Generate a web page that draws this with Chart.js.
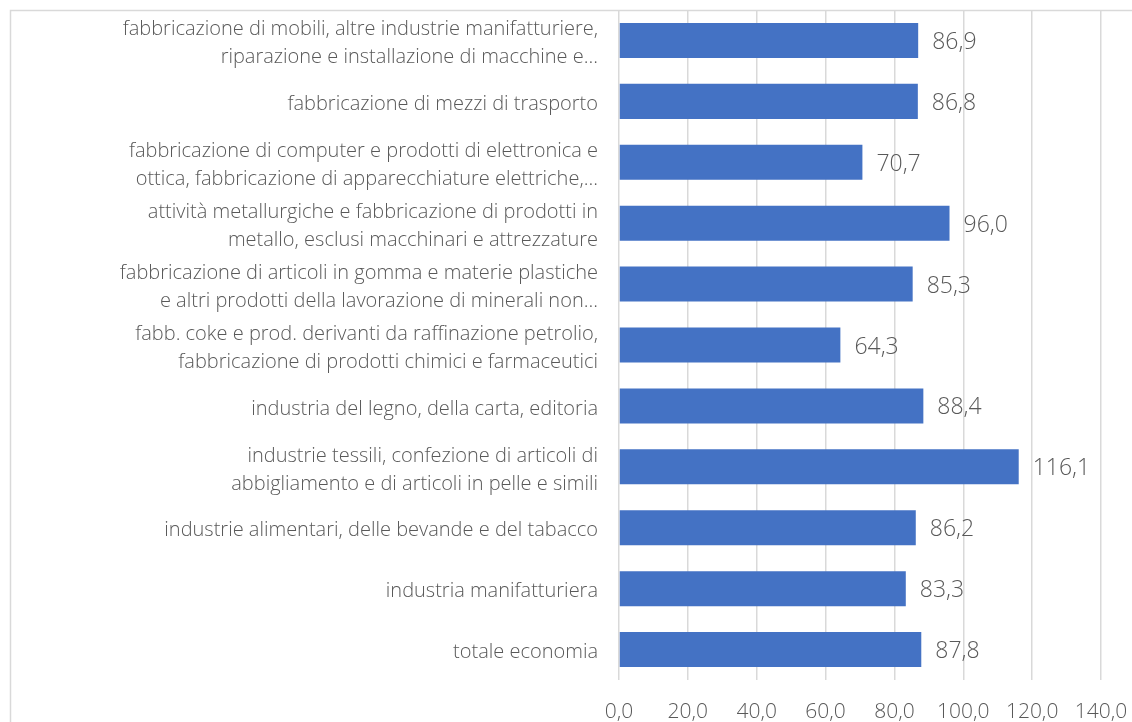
<!DOCTYPE html>
<html>
<head>
<meta charset="utf-8">
<script src="https://cdn.jsdelivr.net/npm/chart.js@4/dist/chart.umd.min.js"></script>
<style>
  html, body { margin: 0; padding: 0; background: #fff; }
  #wrap { width: 1132px; height: 722px; position: relative; }
</style>
</head>
<body>
<div id="wrap"><canvas id="chart"></canvas></div>
<script>
// categorie, dall'alto verso il basso
const categories = [
  ['fabbricazione di mobili, altre industrie manifatturiere,', 'riparazione e installazione di macchine e...'],
  'fabbricazione di mezzi di trasporto',
  ['fabbricazione di computer e prodotti di elettronica e', 'ottica, fabbricazione di apparecchiature elettriche,...'],
  ['attività metallurgiche e fabbricazione di prodotti in', 'metallo, esclusi macchinari e attrezzature'],
  ['fabbricazione di articoli in gomma e materie plastiche', 'e altri prodotti della lavorazione di minerali non...'],
  ['fabb. coke e prod. derivanti da raffinazione petrolio,', 'fabbricazione di prodotti chimici e farmaceutici'],
  'industria del legno, della carta, editoria',
  ['industrie tessili, confezione di articoli di', 'abbigliamento e di articoli in pelle e simili'],
  'industrie alimentari, delle bevande e del tabacco',
  'industria manifatturiera',
  'totale economia'
];

const values = [86.9, 86.8, 70.7, 96.0, 85.3, 64.3, 88.4, 116.1, 86.2, 83.3, 87.8];

const xTicks = [0, 20, 40, 60, 80, 100, 120, 140];

const FONT = "'Open Sans', 'Noto Sans', sans-serif";
const GREY = '#595959';

const fmt = v => v.toFixed(1).replace('.', ',');

// cornice esterna del grafico (tagliata a destra e in basso)
const framePlugin = {
  id: 'frame',
  beforeDraw(chart) {
    const ctx = chart.ctx;
    ctx.save();
    ctx.strokeStyle = '#d9d9d9';
    ctx.lineWidth = 1.5;
    ctx.strokeRect(10.5, 10.5, 3000, 3000);
    ctx.restore();
  }
};

// etichette dei valori a fine barra
const valueLabels = {
  id: 'valueLabels',
  afterDatasetsDraw(chart) {
    const ctx = chart.ctx;
    const meta = chart.getDatasetMeta(0);
    ctx.save();
    ctx.font = '300 23px ' + FONT;
    ctx.fillStyle = GREY;
    ctx.textAlign = 'left';
    ctx.textBaseline = 'middle';
    meta.data.forEach((bar, i) => {
      ctx.fillText(fmt(values[i]), bar.x + 14, bar.y + 2);
    });
    ctx.restore();
  }
};

new Chart(document.getElementById('chart'), {
  type: 'bar',
  data: {
    labels: categories,
    datasets: [{
      data: values,
      backgroundColor: '#4472C4',
      borderWidth: 0,
      barPercentage: 0.575,
      categoryPercentage: 1.0
    }]
  },
  options: {
    indexAxis: 'y',
    responsive: true,
    maintainAspectRatio: false,
    animation: false,
    layout: { padding: { top: 10, right: 31, left: 0, bottom: 0 } },
    plugins: {
      legend: { display: false },
      tooltip: { enabled: false }
    },
    scales: {
      x: {
        min: 0,
        max: 140,
        afterBuildTicks: scale => { scale.ticks = xTicks.map(v => ({ value: v })); },
        afterFit: scale => {
          scale.height = 42;
          scale.paddingLeft = 0;
          scale.paddingRight = 0;
        },
        grid: { color: '#d9d9d9', lineWidth: 1.5, drawTicks: false },
        border: { display: false },
        ticks: {
          padding: 19,
          color: GREY,
          font: { family: FONT, size: 21, weight: '300' },
          callback: v => fmt(v)
        }
      },
      y: {
        afterFit: scale => {
          scale.width = 619;
          scale.paddingTop = 0;
          scale.paddingBottom = 0;
        },
        grid: { display: false, drawTicks: false },
        border: { display: false },
        ticks: {
          padding: 21,
          labelOffset: 3,
          color: GREY,
          font: { family: FONT, size: 20, weight: '300', lineHeight: 1.4 }
        }
      }
    }
  },
  plugins: [framePlugin, valueLabels]
});
</script>
</body>
</html>
